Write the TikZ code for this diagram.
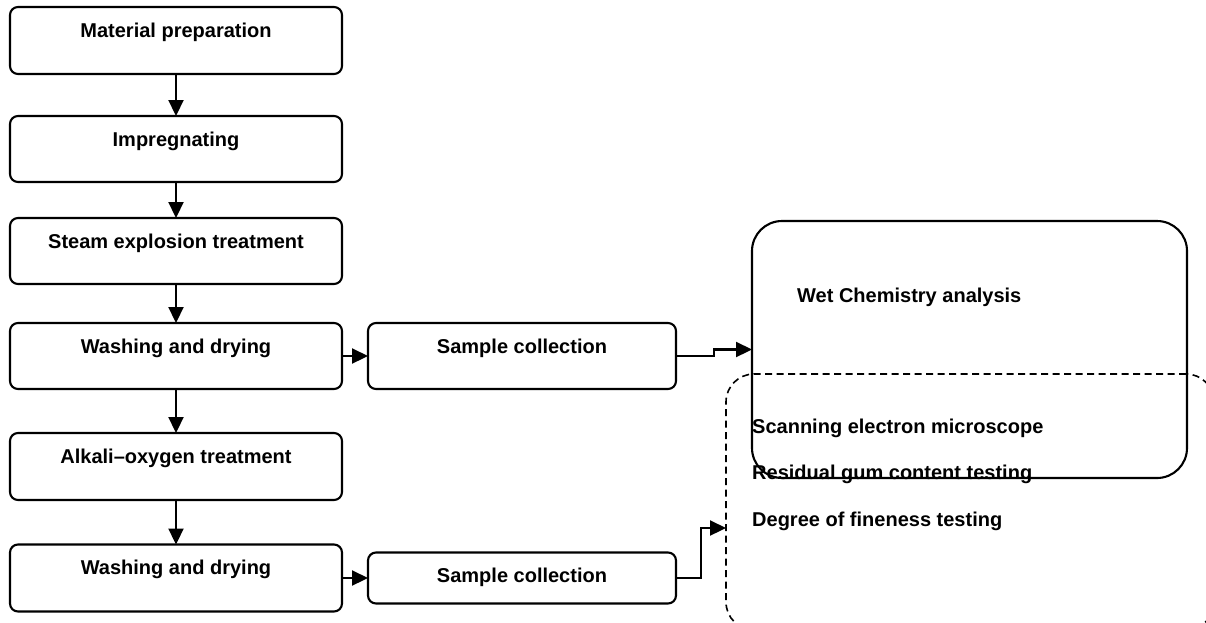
\documentclass[tikz,border=0pt]{standalone}
\usepackage{fontspec}
\setmainfont{Liberation Sans}
\usetikzlibrary{arrows.meta}
\begin{document}
\begin{tikzpicture}[x=1pt,y=-1pt,
  box/.style={draw, line width=2.1pt, rounded corners=8pt, inner sep=0pt, outer sep=0pt},
  lbl/.style={inner sep=0pt, anchor=base, font=\fontsize{20}{24}\selectfont\bfseries},
  lbll/.style={inner sep=0pt, anchor=base west, font=\fontsize{20}{24}\selectfont\bfseries},
  arr/.style={line width=2.2pt, -{Triangle[length=16pt,width=15pt]}},
  dsh/.style={draw, line width=1.6pt, dash pattern=on 7pt off 4.5pt, rounded corners=28pt, inner sep=0pt, outer sep=0pt}
]
\useasboundingbox (0,0) rectangle (1206,622);
\clip (0,0) rectangle (1206,622);
% left column
\node[box, minimum width=332pt, minimum height=67pt] (b1) at (176,40.5) {};
\node[box, minimum width=332pt, minimum height=66pt] (b2) at (176,149) {};
\node[box, minimum width=332pt, minimum height=66pt] (b3) at (176,251) {};
\node[box, minimum width=332pt, minimum height=66pt] (w1) at (176,356) {};
\node[box, minimum width=332pt, minimum height=67pt] (b5) at (176,466.5) {};
\node[box, minimum width=332pt, minimum height=67pt] (w2) at (176,578) {};
\node[lbl] (t1) at ([yshift=-30pt]b1.north) {Material preparation};
\node[lbl] (t2) at ([yshift=-30pt]b2.north) {Impregnating};
\node[lbl] (t3) at ([yshift=-30pt]b3.north) {Steam explosion treatment};
\node[lbl] (t4) at ([yshift=-30pt]w1.north) {Washing and drying};
\node[lbl] (t5) at ([yshift=-30pt]b5.north) {Alkali–oxygen treatment};
\node[lbl] (t6) at ([yshift=-30pt]w2.north) {Washing and drying};
% sample collection
\node[box, minimum width=308pt, minimum height=66pt] (s1) at (522,356) {};
\node[box, minimum width=308pt, minimum height=51pt] (s2) at (522,578) {};
\node[lbl] (ts1) at ([yshift=-30pt]s1.north) {Sample collection};
\node[lbl] (ts2) at ([yshift=-30pt]s2.north) {Sample collection};
% right boxes
\node[box, rounded corners=30pt, minimum width=435pt, minimum height=257pt] (wet) at (969.5,349.5) {};
\node[dsh, minimum width=488pt, minimum height=256pt] (dash) at (970,502) {};
\node[lbll] (tw) at (797,302) {Wet Chemistry analysis};
\node[lbll] (ta) at (752,433) {Scanning electron microscope};
\node[lbll] (tb) at (752,479) {Residual gum content testing};
\node[lbll] (tc) at (752,526) {Degree of fineness testing};
% connectors
\draw[arr] (b1.south) -- (b2.north);
\draw[arr] (b2.south) -- (b3.north);
\draw[arr] (b3.south) -- (w1.north);
\draw[arr] (w1.south) -- (b5.north);
\draw[arr] (b5.south) -- (w2.north);
\draw[arr] (w1.east) -- (s1.west);
\draw[arr] (w2.east) -- (s2.west);
\draw[arr] (s1.east) -- ++(38,0) |- (wet.west);
\draw[arr] (s2.east) -- ++(25,0) |- ([yshift=-26pt]dash.west);
\end{tikzpicture}
\end{document}
